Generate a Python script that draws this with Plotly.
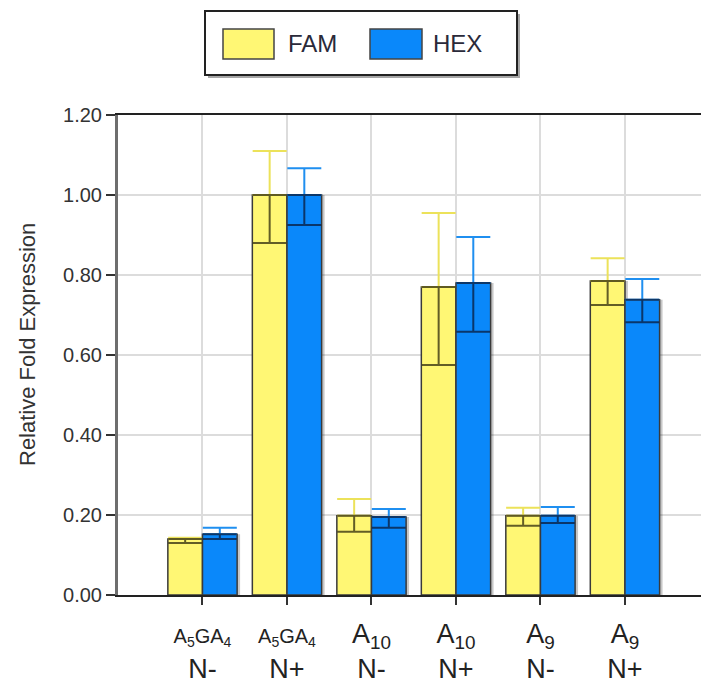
import plotly.graph_objects as go

# ---------------- data ----------------
categories = ["A5GA4 N-", "A5GA4 N+", "A10 N-", "A10 N+", "A9 N-", "A9 N+"]
tick_labels = [
    '<span style="font-size:20px">A<sub>5</sub>GA<sub>4</sub></span><br>N-',
    '<span style="font-size:20px">A<sub>5</sub>GA<sub>4</sub></span><br>N+',
    'A<sub>10</sub><br>N-',
    'A<sub>10</sub><br>N+',
    'A<sub>9</sub><br>N-',
    'A<sub>9</sub><br>N+',
]
fam = [0.140, 1.000, 0.198, 0.770, 0.198, 0.785]
fam_plus = [0.003, 0.110, 0.042, 0.185, 0.020, 0.057]
fam_minus = [0.010, 0.120, 0.040, 0.195, 0.025, 0.060]
hex_vals = [0.152, 1.000, 0.195, 0.780, 0.198, 0.738]
hex_plus = [0.016, 0.067, 0.020, 0.115, 0.022, 0.052]
hex_minus = [0.012, 0.075, 0.027, 0.122, 0.018, 0.056]
y_ticks = [0.0, 0.2, 0.4, 0.6, 0.8, 1.0, 1.2]

# ---------------- style ----------------
W, H = 701, 687
ML, MR, MT, MB = 118, 0, 115, 92
FONT = "Liberation Sans, Arial, sans-serif"
YEL = "#fff774"
BLU = "#0a88fa"
YEL_ERR = "#ece25a"
BLU_ERR = "#1f8ff0"
BW = 0.41

def px(x):
    return (x - ML) / (W - ML - MR)

def py(y):
    return (H - MB - y) / (H - MT - MB)

fig = go.Figure()

# drop shadows
for vals, off in ((fam, -BW), (hex_vals, 0.0)):
    fig.add_trace(go.Bar(
        x=categories, y=vals, width=BW, offset=off + 0.035,
        marker=dict(color="rgba(0,0,0,0.22)", line=dict(width=0)),
        showlegend=False, hoverinfo="skip"))

# main bars with upper error bars in series colour
fig.add_trace(go.Bar(
    name="FAM", x=categories, y=fam, width=BW, offset=-BW,
    marker=dict(color=YEL, line=dict(color="#3a3a3a", width=1.5)),
    error_y=dict(type="data", array=fam_plus, arrayminus=[0] * len(fam),
                 symmetric=False, color=YEL_ERR, thickness=2, width=17),
    showlegend=False))
fig.add_trace(go.Bar(
    name="HEX", x=categories, y=hex_vals, width=BW, offset=0.0,
    marker=dict(color=BLU, line=dict(color="#3a3a3a", width=1.5)),
    error_y=dict(type="data", array=hex_plus, arrayminus=[0] * len(hex_vals),
                 symmetric=False, color=BLU_ERR, thickness=2, width=17),
    showlegend=False))

# lower error bars (dark, inside the bars)
for vals, minus, off, col in ((fam, fam_minus, -BW, "rgba(70,66,25,0.85)"),
                              (hex_vals, hex_minus, 0.0, "rgba(10,40,80,0.85)")):
    fig.add_trace(go.Bar(
        x=categories, y=vals, width=BW, offset=off,
        marker=dict(color="rgba(0,0,0,0)", line=dict(width=0)),
        error_y=dict(type="data", array=[0] * len(vals), arrayminus=minus,
                     symmetric=False, color=col, thickness=2, width=17),
        showlegend=False, hoverinfo="skip"))

# ---------------- custom legend ----------------
shapes = [
    dict(type="rect", xref="paper", yref="paper", x0=px(208), x1=px(520),
         y0=py(14), y1=py(78), fillcolor="rgba(0,0,0,0.35)", line=dict(width=0)),
    dict(type="rect", xref="paper", yref="paper", x0=px(205), x1=px(517),
         y0=py(11), y1=py(75), fillcolor="white", line=dict(color="#222", width=2)),
    dict(type="rect", xref="paper", yref="paper", x0=px(223), x1=px(274),
         y0=py(29), y1=py(59), fillcolor=YEL, line=dict(color="#444", width=1.5)),
    dict(type="rect", xref="paper", yref="paper", x0=px(370), x1=px(422),
         y0=py(29), y1=py(59), fillcolor=BLU, line=dict(color="#444", width=1.5)),
]
annotations = [
    dict(text="FAM", xref="paper", yref="paper", x=px(286), y=py(44),
         xanchor="left", yanchor="middle", showarrow=False,
         font=dict(family=FONT, size=24, color="#2a2a3a")),
    dict(text="HEX", xref="paper", yref="paper", x=px(431), y=py(44),
         xanchor="left", yanchor="middle", showarrow=False,
         font=dict(family=FONT, size=24, color="#2a2a3a")),
    dict(text="Relative Fold Expression", xref="paper", yref="paper",
         x=px(27), y=py(345), textangle=-90, xanchor="center", yanchor="middle",
         showarrow=False, font=dict(family=FONT, size=22, color="#333")),
]

fig.update_layout(
    width=W, height=H,
    margin=dict(l=ML, r=MR, t=MT, b=MB),
    paper_bgcolor="white", plot_bgcolor="white",
    barmode="overlay",
    shapes=shapes, annotations=annotations,
    font=dict(family=FONT, color="#222"),
    xaxis=dict(
        type="category", categoryorder="array", categoryarray=categories,
        range=[-1, 5.9], tickvals=categories, ticktext=tick_labels,
        tickfont=dict(family=FONT, size=27, color="#222"),
        showgrid=True, gridcolor="#dcdcdc", gridwidth=1.5,
        showline=True, linecolor="#222", linewidth=1.5, mirror=True,
        ticks="outside", ticklen=8, tickcolor="#333", tickwidth=1.5,
        ticklabelstandoff=6, automargin=False, zeroline=False,
    ),
    yaxis=dict(
        range=[0, 1.2], tickvals=y_ticks, tickformat=".2f",
        tickfont=dict(family=FONT, size=20, color="#333"),
        showgrid=True, gridcolor="#dcdcdc", gridwidth=1.5,
        showline=True, linecolor="#6e6e6e", linewidth=3,
        ticks="outside", ticklen=9, tickcolor="#333", tickwidth=1.5,
        automargin=False, zeroline=False,
    ),
)

fig.write_html("out.html", config={"displayModeBar": False},
               post_script="document.body.style.margin='0px';")
